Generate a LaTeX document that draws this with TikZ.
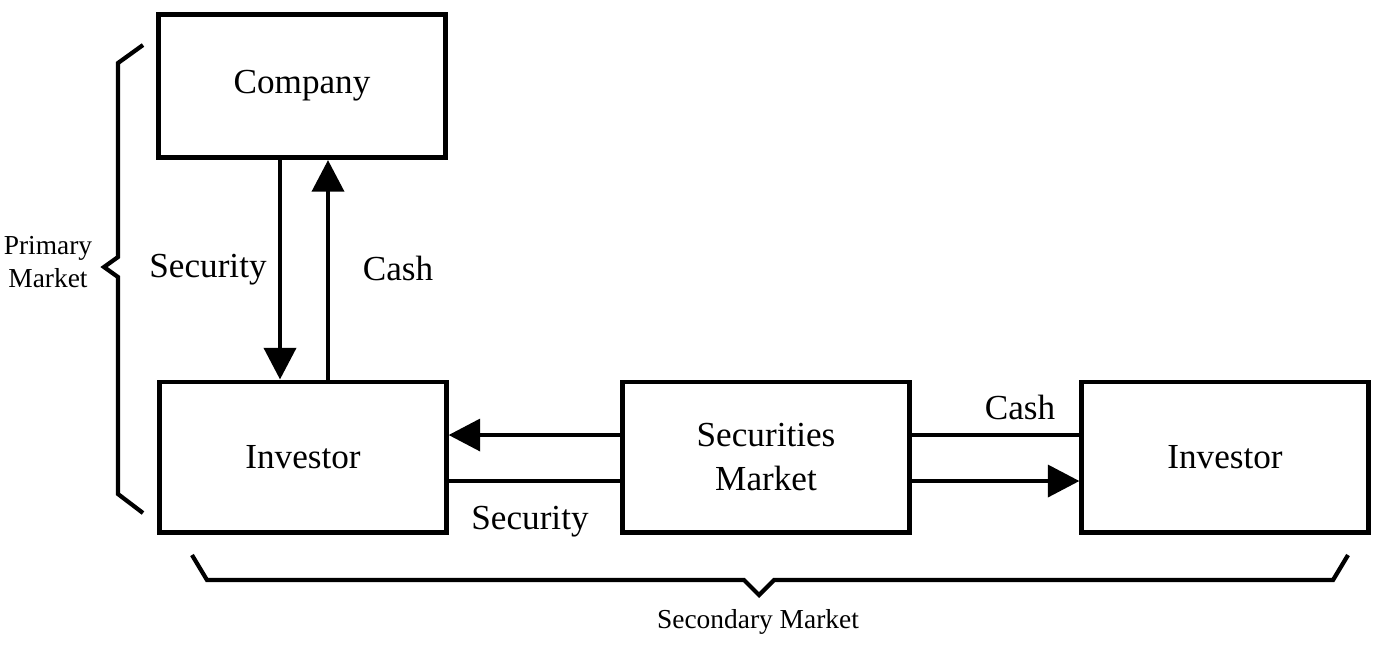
\documentclass[tikz,border=0pt]{standalone}
\usepackage{fontspec}
\setmainfont{Liberation Serif}
\usetikzlibrary{arrows.meta}
\tikzset{
	box/.style={draw, line width=1.4pt, minimum width=2.86cm, minimum height=1.5cm, inner sep=0pt, align=center, font=\fontsize{10}{12.5}\selectfont},
	flow/.style={line width=1.4pt, -{Triangle[length=9pt, width=9pt]}},
	plain/.style={line width=1.4pt},
	brace/.style={line width=1.2pt, line join=miter},
	lbl/.style={font=\fontsize{10}{12}\selectfont},
	mlbl/.style={font=\fontsize{7.8}{9.5}\selectfont, align=center}
}

\begin{document}
\begin{tikzpicture}[x=0.01cm, y=-0.01cm]
		%%%%% START %%%%%
		\useasboundingbox (0, 0) rectangle (1380, 656);
		
		\node[box, minimum height=1.43cm] (company) at (302, 86) {Company};
		\node[box] (investorA) at (303, 457) {Investor};
		\node[box] (market) at (766, 457) {Securities\\Market};
		\node[box] (investorB) at (1225, 457) {Investor};
		
		\coordinate (secx) at (280, 0);
		\coordinate (cashx) at (328, 0);
		\coordinate (topy) at (0, 435);
		\coordinate (boty) at (0, 481);
		
		\draw[flow] (company.south -| secx) -- (investorA.north -| secx);
		\draw[flow] (investorA.north -| cashx) -- (company.south -| cashx);
		\draw[flow] (market.west |- topy) -- (investorA.east |- topy);
		\draw[plain] (investorA.east |- boty) -- (market.west |- boty);
		\draw[plain] (market.east |- topy) -- (investorB.west |- topy);
		\draw[flow] (market.east |- boty) -- (investorB.west |- boty);
		
		\node[lbl] (lsec) at (208, 270) {Security};
		\node[lbl] (lcash) at (398, 268) {Cash};
		\node[lbl] (rcash) at (1020, 407) {Cash};
		\node[lbl] (bsec) at (530, 522) {Security};
		
		% braces
		\draw[brace] (143, 45) -- (118, 63) -- (118, 257) -- (104, 267) -- (118, 277) -- (118, 494) -- (143, 513);
		\node[mlbl] (primary) at (48, 262) {Primary\\Market};
		
		\draw[brace] (192, 555) -- (207, 580) -- (744, 580) -- (759, 595) -- (774, 580) -- (1333, 580) -- (1348, 555);
		\node[mlbl] (secondary) at (758, 622) {Secondary Market};
		
		%%%%% END %%%%%
	\end{tikzpicture}
\end{document}
